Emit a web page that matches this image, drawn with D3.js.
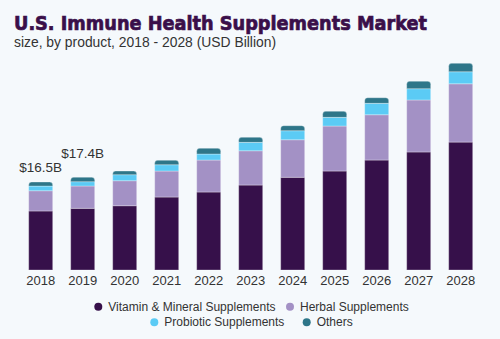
<!DOCTYPE html>
<html><head><meta charset="utf-8">
<script src="https://cdn.jsdelivr.net/npm/d3@7"></script>
<style>
html,body{margin:0;padding:0;background:#f5f9fc;}
svg{display:block;}
</style></head>
<body>
<svg id="chart" width="500" height="339"></svg>
<script>
const years = ["2018","2019","2020","2021","2022","2023","2024","2025","2026","2027","2028"];
const seriesNames = ["Vitamin & Mineral Supplements","Herbal Supplements","Probiotic Supplements","Others"];
const vitamin = [11.07, 11.57, 12.06, 13.69, 14.63, 15.94, 17.39, 18.57, 20.63, 22.14, 24.0];
const herbal = [3.80, 4.19, 4.69, 4.88, 6.00, 6.43, 7.05, 8.44, 8.50, 9.76, 10.94];
const probiotic = [0.88, 0.81, 1.13, 1.18, 1.13, 1.58, 1.69, 1.63, 2.14, 2.12, 2.25];
const others = [0.75, 0.83, 0.68, 0.83, 1.07, 0.94, 0.94, 1.13, 1.05, 1.39, 1.58];
const colors = ["#36104a", "#a391c5", "#5bcbf5", "#2e7689"];
const valueLabels = [{year:"2018", text:"$16.5B", dy:-10.5}, {year:"2019", text:"$17.4B", dy:-19}];

const svg = d3.select("#chart");
svg.append("rect").attr("width",500).attr("height",339).attr("fill","#f5f9fc");

svg.append("text").attr("x",14).attr("y",29.5)
  .attr("font-family","'DejaVu Sans', sans-serif").attr("font-weight","bold")
  .attr("font-size",19).attr("fill","#3a0f4a")
  .attr("stroke","#3a0f4a").attr("stroke-width",0.7)
  .attr("textLength",413).attr("lengthAdjust","spacingAndGlyphs")
  .text("U.S. Immune Health Supplements Market");
svg.append("text").attr("x",14).attr("y",46.5)
  .attr("font-family","'Liberation Sans', Arial, sans-serif")
  .attr("font-size",14).attr("fill","#333")
  .attr("textLength",262).attr("lengthAdjust","spacingAndGlyphs")
  .text("size, by product, 2018 - 2028 (USD Billion)");

const x = d3.scaleBand().domain(years).range([19.7, 481.7]).paddingInner(0.4286).paddingOuter(0.2143);
const y = d3.scaleLinear().domain([0, 50]).range([270, 3.5]);

const rows = years.map((yr,i)=>({year:yr, v:vitamin[i], h:herbal[i], p:probiotic[i], o:others[i]}));
const stack = d3.stack().keys(["v","h","p","o"]);
const stacked = stack(rows);

const g = svg.append("g");
stacked.forEach((layer, li) => {
  layer.forEach((d, i) => {
    const x0 = x(d.data.year), w = x.bandwidth();
    const yTop = y(d[1]), yBot = y(d[0]);
    if (li === stacked.length - 1) {
      const r = 3;
      const p = d3.path();
      p.moveTo(x0, yBot);
      p.lineTo(x0, yTop + r);
      p.quadraticCurveTo(x0, yTop, x0 + r, yTop);
      p.lineTo(x0 + w - r, yTop);
      p.quadraticCurveTo(x0 + w, yTop, x0 + w, yTop + r);
      p.lineTo(x0 + w, yBot);
      p.closePath();
      g.append("path").attr("d", p.toString()).attr("fill", colors[li])
        .attr("stroke","rgba(255,255,255,0.3)").attr("stroke-width",1);
    } else {
      g.append("rect").attr("x", x0).attr("y", yTop).attr("width", w).attr("height", yBot - yTop)
        .attr("fill", colors[li]).attr("stroke","rgba(255,255,255,0.3)").attr("stroke-width",1);
    }
  });
});

const axis = d3.axisBottom(x).tickSize(0).tickPadding(6);
const ax = svg.append("g").attr("transform","translate(0,270)").call(axis);
ax.select(".domain").remove();
ax.selectAll("text").attr("font-family","'Liberation Sans', Arial, sans-serif").attr("font-size",13).attr("fill","#333");

valueLabels.forEach(l => {
  const i = years.indexOf(l.year);
  const total = vitamin[i] + herbal[i] + probiotic[i] + others[i];
  svg.append("text").attr("x", x(l.year) + x.bandwidth()/2).attr("y", y(total) + l.dy)
    .attr("text-anchor","middle").attr("font-family","'Liberation Sans', Arial, sans-serif")
    .attr("font-size",13.5).attr("fill","#333").text(l.text);
});

const legendRows = [
  [{i:0, cx:98.3}, {i:1, cx:290}],
  [{i:2, cx:154.3}, {i:3, cx:306.7}]
];
const legendY = [306.7, 322.3];
legendRows.forEach((row, ri) => {
  row.forEach(it => {
    svg.append("circle").attr("cx", it.cx).attr("cy", legendY[ri]).attr("r", 4).attr("fill", colors[it.i]);
    svg.append("text").attr("x", it.cx + 10).attr("y", legendY[ri] + 4)
      .attr("font-family","'Liberation Sans', Arial, sans-serif").attr("font-size",12)
      .attr("fill","#333").text(seriesNames[it.i]);
  });
});
</script>
</body></html>
